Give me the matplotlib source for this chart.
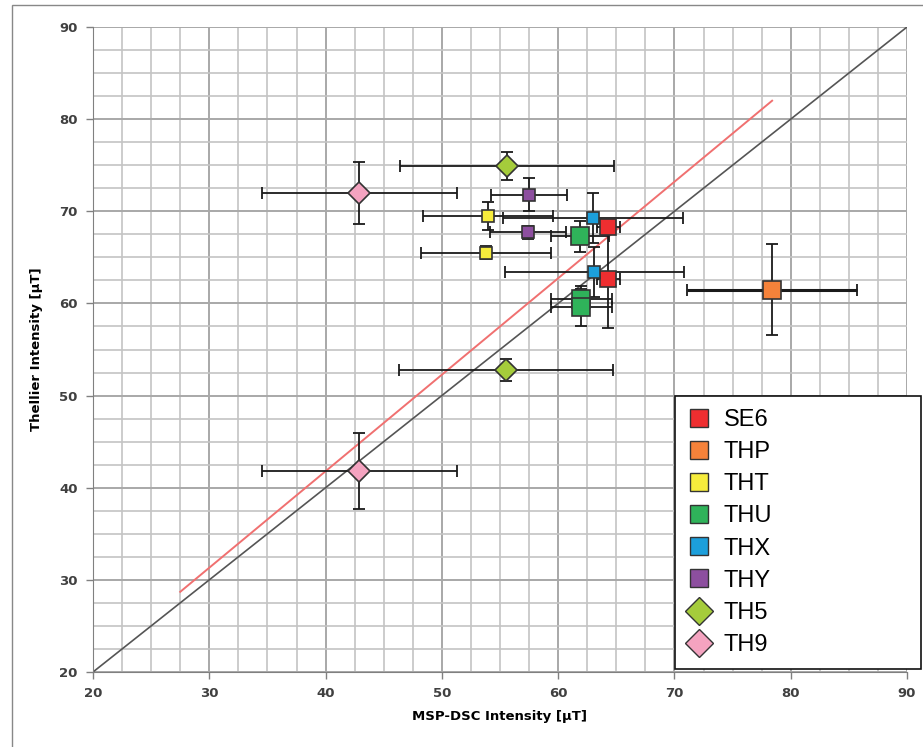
import matplotlib
matplotlib.use("Agg")
import matplotlib.pyplot as plt
from matplotlib.lines import Line2D
from matplotlib.patches import Rectangle
import numpy as np

# sample names, colours, marker shapes
names = ["SE6", "THP", "THT", "THU", "THX", "THY", "TH5", "TH9"]
colors = ["#ee2e30", "#f5823a", "#f6ec3c", "#2fb35a", "#1c9fdb", "#8d4f9f", "#a5cc3b", "#f4a3c0"]
markers = ["s", "s", "s", "s", "s", "s", "D", "D"]
msizes = [12, 13, 8, 13, 8, 8, 11, 11]

# MSP-DSC (x) vs Thellier (y) values with errors, per sample
msp_x = {
    "SE6": [64.3, 64.3], "THP": [78.4], "THT": [54.0, 53.8], "THU": [61.9, 62.0, 62.0],
    "THX": [63.0, 63.1], "THY": [57.5, 57.4], "TH5": [55.6, 55.5], "TH9": [42.9, 42.9],
}
msp_err = {
    "SE6": [1.0, 1.0], "THP": [7.3], "THT": [5.6, 5.6], "THU": [2.5, 2.6, 2.6],
    "THX": [7.7, 7.7], "THY": [3.3, 3.3], "TH5": [9.2, 9.2], "TH9": [8.4, 8.4],
}
thel_y = {
    "SE6": [68.3, 62.7], "THP": [61.5], "THT": [69.5, 65.5], "THU": [67.3, 60.5, 59.6],
    "THX": [69.3, 63.4], "THY": [71.8, 67.7], "TH5": [74.9, 52.8], "TH9": [72.0, 41.8],
}
thel_err = {
    "SE6": [0.5, 5.4], "THP": [4.9], "THT": [1.5, 0.7], "THU": [1.7, 1.4, 2.0],
    "THX": [2.7, 2.7], "THY": [1.8, 0.7], "TH5": [1.5, 1.2], "TH9": [3.4, 4.1],
}

# reference lines
one_to_one = [20, 90]
fit_x = [27.5, 78.4]
fit_y = [28.7, 82.0]

fig = plt.figure(figsize=(9.23, 7.47), dpi=100)
ax = fig.add_axes([93 / 923, 1 - 672 / 747, (907 - 93) / 923, (672 - 27) / 747])

ax.set_xlim(20, 90)
ax.set_ylim(20, 90)
ax.set_xticks(np.arange(20, 91, 10))
ax.set_yticks(np.arange(20, 91, 10))
ax.set_xticks(np.arange(20, 90.1, 2.5), minor=True)
ax.set_yticks(np.arange(20, 90.1, 2.5), minor=True)
ax.grid(which="major", color="#a8a8a8", lw=1.4, zorder=0)
ax.grid(which="minor", color="#c4c4c4", lw=1.2, zorder=0)
ax.tick_params(which="minor", length=0)
ax.tick_params(which="major", direction="out", length=5, width=1, color="#808080",
               labelsize=9.5, labelcolor="#404040", pad=6)
for lab in ax.get_xticklabels() + ax.get_yticklabels():
    lab.set_fontweight("bold")
for s in ["top", "right"]:
    ax.spines[s].set_visible(False)
for s in ["left", "bottom"]:
    ax.spines[s].set_color("#808080")
ax.set_axisbelow(True)

ax.plot(one_to_one, one_to_one, color="#555555", lw=1.2, zorder=2)
ax.plot(fit_x, fit_y, color="#f07070", lw=1.4, zorder=2)

for n, c, m, ms in zip(names, colors, markers, msizes):
    x = msp_x[n]
    y = thel_y[n]
    elw = 2.2 if n == "THP" else 1.3
    ax.errorbar(x, y, xerr=msp_err[n], fmt="none", ecolor="#1a1a1a", elinewidth=elw,
                capsize=4, capthick=1.3, zorder=3)
    ax.errorbar(x, y, yerr=thel_err[n], fmt="none", ecolor="#1a1a1a", elinewidth=1.3,
                capsize=4, capthick=1.3, zorder=3)
    ax.plot(x, y, linestyle="none", marker=m, ms=ms, mfc=c, mec="#333333", mew=1.2, zorder=4)

ax.set_xlabel("MSP-DSC Intensity [µT]", fontsize=9.5, fontweight="bold", labelpad=7)
ax.set_ylabel("Thellier Intensity [µT]", fontsize=9.5, fontweight="bold", labelpad=12)

handles = [Line2D([], [], linestyle="none", marker=m, ms=13 if m == "s" else 14,
                  mfc=c, mec="#333333", mew=1.0) for c, m in zip(colors, markers)]
leg = fig.legend(handles, names, loc="upper left",
                 bbox_to_anchor=(675 / 923, 1 - 396 / 747 - 0.01, (921 - 675) / 923, 0.01),
                 mode="expand", prop={"size": 17, "family": "Liberation Sans"},
                 frameon=True, fancybox=False, edgecolor="#111111", framealpha=1,
                 handlelength=0.9, handletextpad=0.6, labelspacing=0.43,
                 borderpad=0.55, borderaxespad=0)
leg.get_frame().set_linewidth(1.2)

# outer chart border
fig.patches.append(Rectangle((12 / 923, -0.01), 1.0, 1 - 5 / 747 + 0.01,
                             transform=fig.transFigure, fill=False,
                             edgecolor="#888888", lw=1.0))

fig.savefig("out.png", dpi=100)
